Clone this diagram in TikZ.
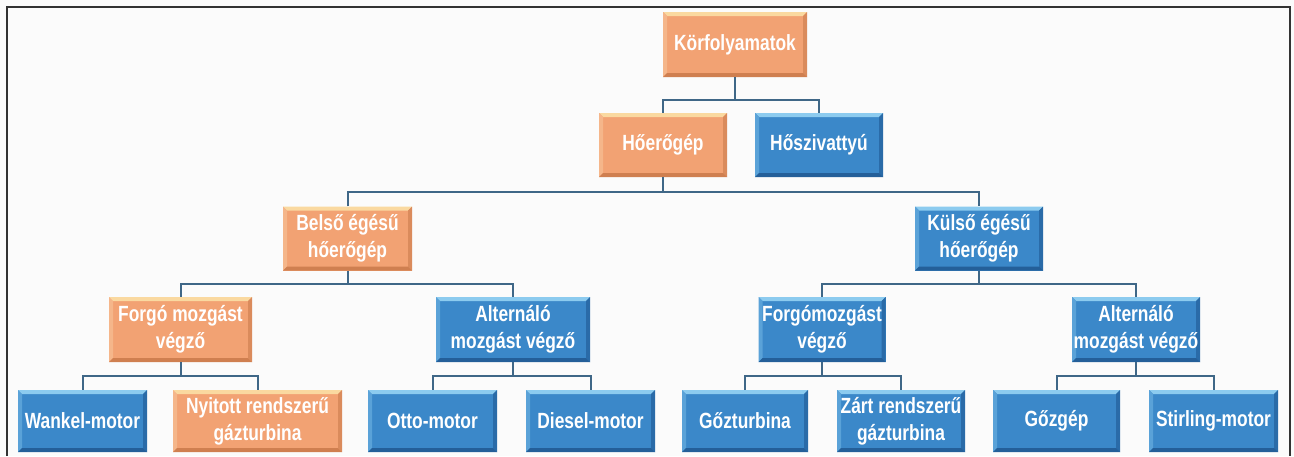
\documentclass[tikz,border=0pt]{standalone}
\usepackage{fontspec}
\setmainfont{Liberation Sans}[FakeStretch=0.79]
\definecolor{orM}{HTML}{F2A273}
\definecolor{orT}{HTML}{FAD9A0}
\definecolor{orL}{HTML}{F5B68A}
\definecolor{orR}{HTML}{DA8B5C}
\definecolor{orB}{HTML}{CF7F50}
\definecolor{blM}{HTML}{3B88C9}
\definecolor{blT}{HTML}{8CCBEF}
\definecolor{blL}{HTML}{5AA2D8}
\definecolor{blR}{HTML}{2A6BA8}
\definecolor{blB}{HTML}{245F99}
\definecolor{lineC}{HTML}{3F6787}
\definecolor{bgC}{HTML}{FBFBFB}
\tikzset{
  bev/.style n args={4}{path picture={
    \coordinate (PNW) at (path picture bounding box.north west);
    \coordinate (PNE) at (path picture bounding box.north east);
    \coordinate (PSW) at (path picture bounding box.south west);
    \coordinate (PSE) at (path picture bounding box.south east);
    \fill[#1] (PNW) -- (PNE) -- ([xshift=-4pt,yshift=-4pt]PNE) -- ([xshift=4pt,yshift=-4pt]PNW) -- cycle;
    \fill[#2] (PNW) -- (PSW) -- ([xshift=4pt,yshift=4pt]PSW) -- ([xshift=4pt,yshift=-4pt]PNW) -- cycle;
    \fill[#3] (PNE) -- (PSE) -- ([xshift=-4pt,yshift=4pt]PSE) -- ([xshift=-4pt,yshift=-4pt]PNE) -- cycle;
    \fill[#4] (PSW) -- (PSE) -- ([xshift=-4pt,yshift=4pt]PSE) -- ([xshift=4pt,yshift=4pt]PSW) -- cycle;
  }},
  box/.style={rectangle, inner sep=0pt, align=center, text=white,
    font=\fontsize{22}{27}\selectfont\bfseries},
  obox/.style={box, fill=orM, bev={orT}{orL}{orR}{orB}},
  bbox/.style={box, fill=blM, bev={blT}{blL}{blR}{blB}},
  conn/.style={draw=lineC, line width=2pt},
}
\begin{document}
\begin{tikzpicture}[x=1pt,y=-1pt]
\fill[bgC] (0,0) rectangle (1294,456);
\useasboundingbox (0,0) rectangle (1294,456);
\draw[black!80, line width=1.5pt] (7,456) -- (7,7) -- (1290,7) -- (1290,456);

% level 0
\node[obox, minimum width=144pt, minimum height=65pt] (k) at (735,44.5) {Körfolyamatok};
% level 1
\node[obox, minimum width=128pt, minimum height=64pt] (h1) at (663,145) {Hőerőgép};
\node[bbox, minimum width=128pt, minimum height=64pt] (h2) at (819,145) {Hőszivattyú};
% level 2
\node[obox, minimum width=129pt, minimum height=64pt] (b) at (347.5,238.5) {Belső égésű\\hőerőgép};
\node[bbox, minimum width=128pt, minimum height=64pt] (kk) at (979,238.5) {Külső égésű\\hőerőgép};
% level 3
\node[obox, minimum width=143pt, minimum height=65pt] (f1) at (180.5,329.5) {Forgó mozgást\\végző};
\node[bbox, minimum width=154pt, minimum height=65pt] (a1) at (513,329.5) {Alternáló\\mozgást végző};
\node[bbox, minimum width=127pt, minimum height=65pt] (f2) at (822,329.5) {Forgómozgást\\végző};
\node[bbox, minimum width=128pt, minimum height=65pt] (a2) at (1136,329.5) {Alternáló\\mozgást végző};
% level 4
\node[bbox, minimum width=129pt, minimum height=62pt] (w) at (82.5,421) {Wankel-motor};
\node[obox, minimum width=169pt, minimum height=62pt] (ny) at (257.5,421) {Nyitott rendszerű\\gázturbina};
\node[bbox, minimum width=129pt, minimum height=62pt] (o) at (432.5,421) {Otto-motor};
\node[bbox, minimum width=129pt, minimum height=62pt] (d) at (590.5,421) {Diesel-motor};
\node[bbox, minimum width=126pt, minimum height=62pt] (g) at (745,421) {Gőzturbina};
\node[bbox, minimum width=128pt, minimum height=62pt] (z) at (901,421) {Zárt rendszerű\\gázturbina};
\node[bbox, minimum width=127pt, minimum height=62pt] (gg) at (1056.5,421) {Gőzgép};
\node[bbox, minimum width=129pt, minimum height=62pt] (s) at (1213.5,421) {Stirling-motor};

% connectors
\draw[conn] (k.south) -- ++(0,23) coordinate (m0);
\draw[conn] (h1.north) |- (m0) -| (h2.north);
\draw[conn] (h1.south) -- ++(0,15) coordinate (m1);
\draw[conn] (b.north) |- (m1) -| (kk.north);
\draw[conn] (b.south) -- ++(0,13) coordinate (m2);
\draw[conn] (f1.north) |- (m2) -| (a1.north);
\draw[conn] (kk.south) -- ++(0,13) coordinate (m3);
\draw[conn] (f2.north) |- (m3) -| (a2.north);
\draw[conn] (f1.south) -- ++(0,14) coordinate (m4);
\draw[conn] (w.north) |- (m4) -| (ny.north);
\draw[conn] (a1.south) -- ++(0,14) coordinate (m5);
\draw[conn] (o.north) |- (m5) -| (d.north);
\draw[conn] (f2.south) -- ++(0,14) coordinate (m6);
\draw[conn] (g.north) |- (m6) -| (z.north);
\draw[conn] (a2.south) -- ++(0,14) coordinate (m7);
\draw[conn] (gg.north) |- (m7) -| (s.north);
\end{tikzpicture}
\end{document}
